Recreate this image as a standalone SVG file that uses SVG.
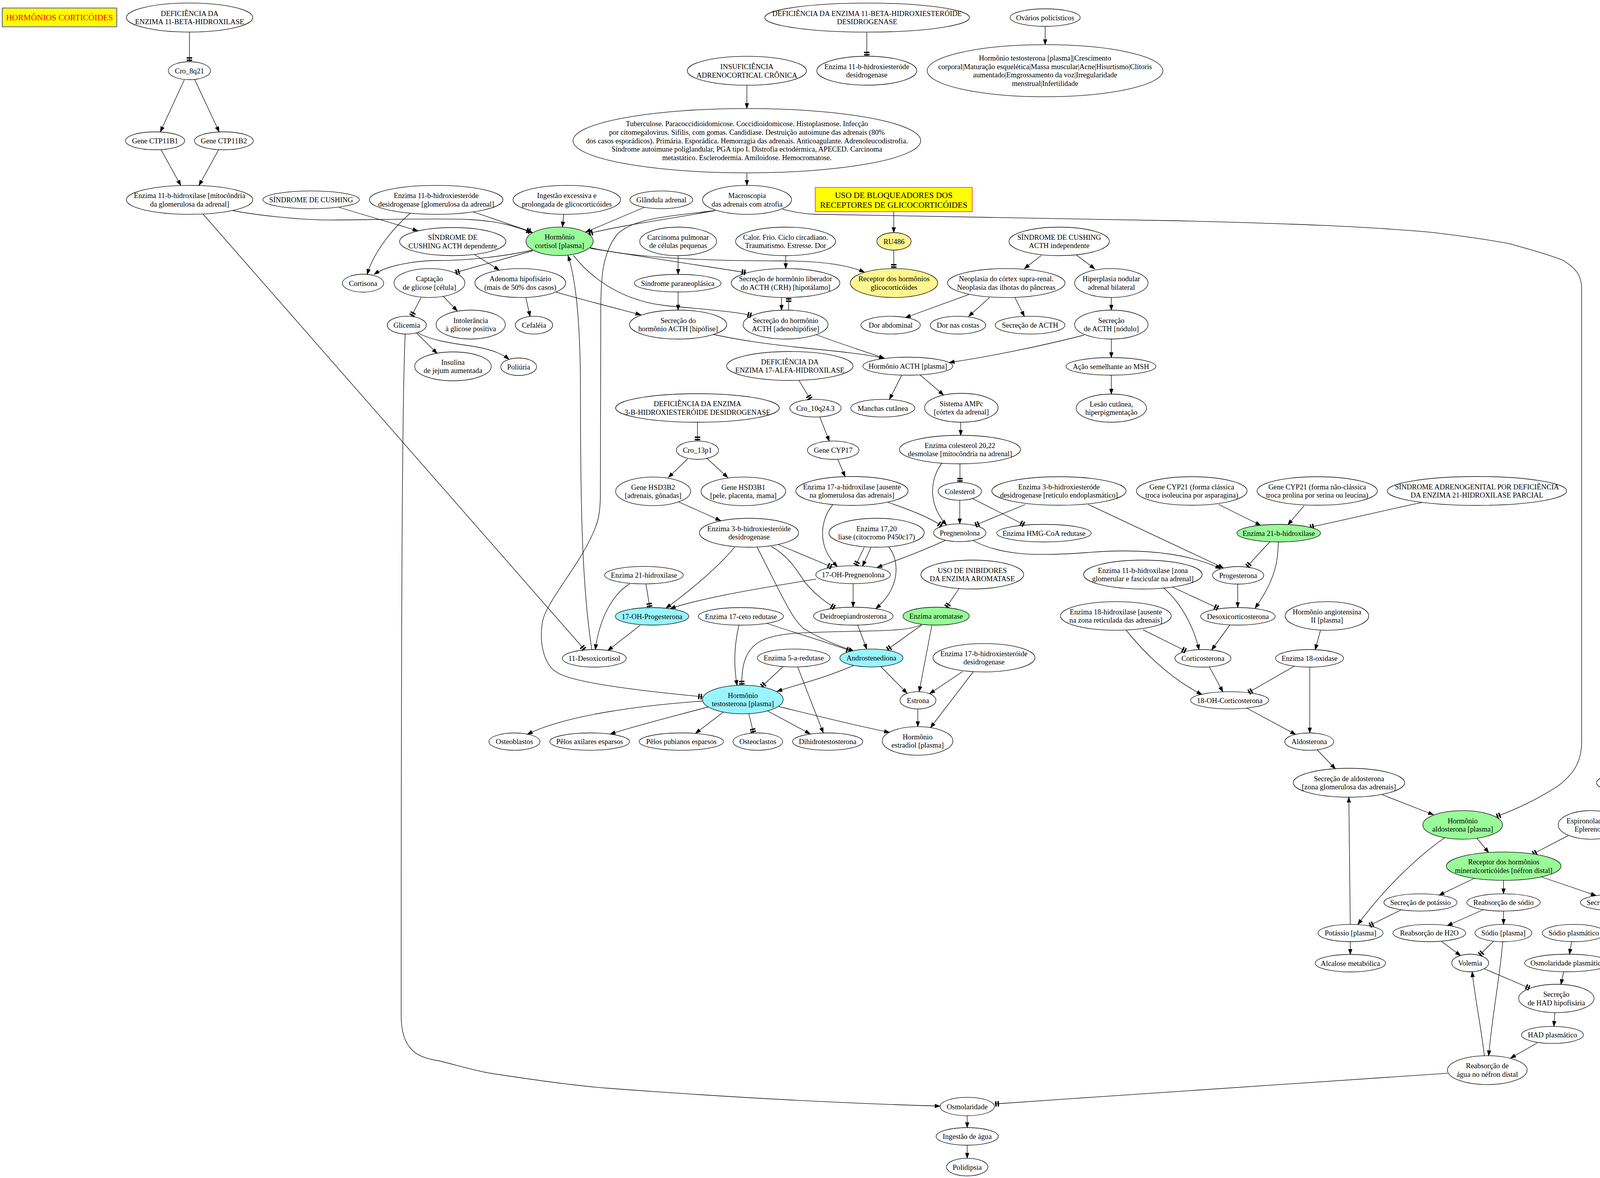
<svg xmlns="http://www.w3.org/2000/svg" width="4497" height="3016" viewBox="0 0 4497 3016">
<style>
text{font-family:"Liberation Serif","Times New Roman",serif;font-size:18.67px;text-anchor:middle;fill:#000}
.node ellipse{fill:none;stroke:#000;stroke-width:1.3}
.node ellipse.g{fill:#98FB98}
.node ellipse.c{fill:#98F5FF}
.node ellipse.y{fill:#FFF68F}
text.big{font-size:21.3px}
text.red{fill:#FF0000}
#edges path{fill:none;stroke:#000;stroke-width:1.3}
#edges path.a{marker-end:url(#a)}
#edges path.t{marker-end:url(#t)}
</style>
<defs>
<marker id="a" markerWidth="14" markerHeight="10" refX="13" refY="5" orient="auto" markerUnits="userSpaceOnUse" overflow="visible"><path d="M0,0.3 L13,5 L0,9.7 z" fill="#000" stroke="#000" stroke-width="1"/></marker>
<marker id="t" markerWidth="12" markerHeight="15" refX="11.5" refY="7.5" orient="auto" markerUnits="userSpaceOnUse" overflow="visible"><rect x="0" y="0.5" width="3.5" height="14" fill="#000"/><rect x="6" y="0.5" width="3.5" height="14" fill="#000"/></marker>
</defs>
<rect x="0" y="0" width="4497" height="3016" fill="#fff"/>
<g id="edges">
<path class="t" d="M485,82 L485,158"/>
<path class="a" d="M472,204 L410.4,337.5"/>
<path class="a" d="M498.6,204 L561,337.5"/>
<path class="a" d="M412.5,383.6 L462.8,474.8"/>
<path class="a" d="M559.6,383.6 L509.4,474.8"/>
<path class="a" d="M595.5,539 C650,550 760,563 846.6,563.3 C950,563 1124,558 1200,562 C1280,566 1320,580 1364,596"/>
<path class="t" d="M1210,542 L1359,593"/>
<path class="t" d="M520,548.5 L1497,1664"/>
<path class="a" d="M1051,545 C1000,590 955,650 940,702.5"/>
<path class="a" d="M868,531 L1070,591"/>
<path class="a" d="M1443,548.5 L1440,581.3"/>
<path class="a" d="M1649,531 L1499,594.5"/>
<path class="t" d="M1830.7,539 C1720,560 1600,575 1506,598"/>
<path class="t" d="M1830.7,539 C1700,555 1620,560 1580,600 C1540,650 1538,720 1538,800 L1537,1262 C1537,1320 1530,1340 1515,1372 C1480,1450 1400,1540 1389,1590 C1380,1640 1390,1700 1425,1721 C1460,1745 1600,1765 1799,1784"/>
<path class="a" d="M1364,640 C1300,655 1200,667 1124,667 C1060,667 990,680 958,702.5"/>
<path class="t" d="M1364,642 L1165,698"/>
<path class="t" d="M1511,636 L1910,698"/>
<path class="a" d="M1511,634 C1620,660 1800,668 2000,668 C2100,668 2170,678 2213,697"/>
<path class="t" d="M1468,654 C1520,720 1600,770 1700,782 C1800,792 1880,797 1925,808"/>
<path class="a" d="M1515,1663 C1490,1500 1486,1300 1486,1000 C1486,800 1470,700 1454,654.5"/>
<path class="a" d="M1213.7,651 L1278,691.6"/>
<path class="a" d="M1346,761.5 L1357,810"/>
<path class="a" d="M1421.7,747.4 C1500,770 1580,790 1640.6,806"/>
<path class="t" d="M1078,761.5 L1053,810"/>
<path class="a" d="M1135,759 L1170.6,796"/>
<path class="a" d="M1067,853 L1119,905"/>
<path class="a" d="M1068,851 C1100,870 1150,878 1200,885 C1250,892 1285,905 1303,920"/>
<path class="a" d="M1037.4,855 C1030,1000 1027,1500 1027,2600 C1027,2690 1070,2708 1124,2716 C1180,2730 1220,2742 1257,2748 C1400,2770 1500,2782 1554,2786 C1900,2812 2200,2826 2406.6,2832"/>
<path class="a" d="M1912,218 L1912,277.8"/>
<path class="a" d="M1912,442.7 L1912,474.6"/>
<path class="t" d="M2219,82 L2219,144"/>
<path class="a" d="M2675.6,67.4 L2675.6,114.3"/>
<path class="a" d="M1736,654.5 L1736,702.5"/>
<path class="a" d="M1736,747.5 L1736,794"/>
<path class="a" d="M2011.5,654.5 L2011.5,687.6"/>
<path class="a" d="M2000.7,761.5 L2000.7,794.2"/>
<path class="t" d="M2019,794 L2019,761.5"/>
<path class="a" d="M1827,856.5 C1900,872 1960,880 2050,890 C2150,900 2210,906 2264,917.5"/>
<path class="a" d="M2089,856.5 C2150,880 2200,895 2264,917.5"/>
<path class="a" d="M2775,858 C2650,890 2520,915 2430,928"/>
<path class="a" d="M2665.6,654 L2622.5,687.7"/>
<path class="a" d="M2756,653 L2802.6,688.4"/>
<path class="a" d="M2481,753.8 L2318,813"/>
<path class="a" d="M2533.5,761.5 L2479.7,810"/>
<path class="a" d="M2598,761.5 L2622.5,810"/>
<path class="a" d="M2845,761.5 L2845,794"/>
<path class="a" d="M2845,868 L2845,915.5"/>
<path class="a" d="M2845,960.5 L2845,1009"/>
<path class="a" d="M2288,542 L2288,595.5"/>
<path class="t" d="M2288,640.5 L2288,687.6"/>
<path class="a" d="M2308.5,960.4 L2277,1022.5"/>
<path class="a" d="M2355,959.6 L2415.6,1011.5"/>
<path class="a" d="M2459.4,1081 L2459.4,1114.5"/>
<path class="t" d="M2045,973.5 L2075,1023"/>
<path class="a" d="M2098.7,1067.5 L2123,1129.5"/>
<path class="a" d="M2144.6,1175.7 L2163.4,1220.3"/>
<path class="t" d="M1785.5,1081 L1785.5,1129.2"/>
<path class="a" d="M1760.4,1174.7 L1711,1222.5"/>
<path class="a" d="M1809,1172.8 L1863,1222.5"/>
<path class="a" d="M1737.4,1285 L1845,1333"/>
<path class="t" d="M2457.5,1187.5 L2457.5,1235.2"/>
<path class="a" d="M2411.6,1185 C2385,1220 2370,1285 2423,1344"/>
<path class="a" d="M2457,1280.8 L2457,1341.2"/>
<path class="t" d="M2488,1275.5 L2623,1344"/>
<path class="t" d="M2624.7,1291.5 L2495.5,1345"/>
<path class="a" d="M2786,1291.5 L3132,1454"/>
<path class="t" d="M2272.8,1286 C2330,1305 2380,1325 2412,1347"/>
<path class="a" d="M2132,1292 C2100,1330 2090,1400 2144,1450.5"/>
<path class="t" d="M1992,1394 L2130,1452"/>
<path class="t" d="M2212.5,1401 L2190,1448.5"/>
<path class="a" d="M2230,1401 L2208,1449.5"/>
<path class="a" d="M2275,1400 C2300,1430 2310,1500 2242,1558.3"/>
<path class="a" d="M2420,1383.6 C2340,1420 2280,1440 2245,1453"/>
<path class="a" d="M2492,1384.5 C2560,1420 2640,1425 2780,1415 C2950,1400 3060,1425 3125,1456"/>
<path class="a" d="M2184,1494.4 L2184,1554.5"/>
<path class="a" d="M2089,1482.7 C1950,1505 1800,1530 1716,1558"/>
<path class="a" d="M1881,1400.6 C1840,1450 1770,1510 1705,1557"/>
<path class="a" d="M1938,1400.6 C2000,1520 2030,1595 2065,1614 C2110,1640 2150,1655 2186,1667"/>
<path class="t" d="M1974,1398.6 C2020,1425 2040,1460 2060,1490 C2085,1520 2110,1540 2138,1556.5"/>
<path class="t" d="M1653.5,1494.9 L1663.5,1555.6"/>
<path class="a" d="M1612,1494.9 C1570,1520 1535,1580 1524,1663"/>
<path class="a" d="M1639,1600.7 L1556,1665.5"/>
<path class="a" d="M1891.7,1600.5 C1880,1650 1877,1700 1887,1755"/>
<path class="t" d="M2359,1599.5 C2330,1612 2300,1614 2200,1616 C2050,1619 1990,1620 1950,1640 C1910,1660 1898,1700 1899,1754.5"/>
<path class="t" d="M1963,1596 C2050,1625 2120,1645 2178,1666.5"/>
<path class="t" d="M2359.8,1600 L2270.5,1664"/>
<path class="a" d="M2385.7,1600.5 L2353,1770.8"/>
<path class="t" d="M2455.8,1506 L2422,1555.6"/>
<path class="a" d="M2195.5,1600.3 L2219,1662"/>
<path class="a" d="M2185.7,1703.6 C2100,1740 2050,1750 1989,1770"/>
<path class="a" d="M2255,1706.5 L2322,1775"/>
<path class="t" d="M2005,1706.5 L1949,1758.5"/>
<path class="a" d="M2042,1707.5 L2107.6,1876.5"/>
<path class="a" d="M2464.7,1719 L2380,1776"/>
<path class="a" d="M2491.5,1720 L2382,1863"/>
<path class="a" d="M2349.6,1815.2 L2349.6,1860.4"/>
<path class="a" d="M1993.7,1809 C2100,1835 2200,1860 2277,1875"/>
<path class="a" d="M1964.7,1820 L2074,1879"/>
<path class="t" d="M1917,1827.2 L1929,1876.8"/>
<path class="a" d="M1852,1823 L1780.5,1877.5"/>
<path class="a" d="M1812.7,1810 C1720,1835 1620,1860 1562,1879.5"/>
<path class="a" d="M1798.4,1795 C1650,1805 1450,1830 1350,1880"/>
<path class="a" d="M3119.7,1291.5 L3227.3,1345"/>
<path class="a" d="M3338.5,1294.7 L3297,1343.5"/>
<path class="t" d="M3641,1286.4 C3550,1305 3450,1330 3352,1350"/>
<path class="t" d="M3251,1387 L3191.5,1451.5"/>
<path class="a" d="M3272.5,1387.5 C3272,1430 3268,1480 3213,1557"/>
<path class="a" d="M3168.5,1495.5 L3168.5,1555.5"/>
<path class="t" d="M3001.3,1503 L3119.7,1558"/>
<path class="a" d="M2978.4,1505 C3020,1540 3055,1600 3069.5,1663.5"/>
<path class="a" d="M3148.4,1600 L3101.8,1664"/>
<path class="t" d="M2926,1612.3 L3037,1667.5"/>
<path class="a" d="M2883,1613.5 C2920,1660 2990,1735 3077,1778"/>
<path class="a" d="M3096,1707.5 L3130.5,1771.2"/>
<path class="a" d="M3380.6,1613 L3367,1663.5"/>
<path class="t" d="M3313.4,1705.5 L3195,1773.5"/>
<path class="a" d="M3353,1708 L3353,1876.5"/>
<path class="a" d="M3191.5,1813 L3317,1880.5"/>
<path class="a" d="M3372,1919.8 L3418.6,1968.5"/>
<path class="a" d="M3537,2034 L3669.7,2086"/>
<path class="t" d="M2003,535.7 C2040,545 2070,548 2085,548.5 C2300,553 2600,558 3000,565 C3300,572 3500,580 3662.6,594.7 C3750,605 3800,612 3863.5,623.6 C3920,640 3960,650 4000.5,666 C4040,690 4049,710 4049,740 L4049,1898 C4049,1950 4030,1980 3989,2012 C3930,2050 3880,2072 3830,2091"/>
<path class="a" d="M3456.7,2366.5 L3453,2041"/>
<path class="a" d="M3781,2146 L3811,2183"/>
<path class="a" d="M3698.4,2144.7 C3620,2200 3540,2280 3476,2367"/>
<path class="a" d="M4218.6,2038 L4130,2084.5"/>
<path class="t" d="M4014,2139.6 L3923,2187"/>
<path class="a" d="M3773.8,2249 L3684,2292"/>
<path class="a" d="M3849,2254 L3849,2288.3"/>
<path class="a" d="M3946,2245 L4086,2293"/>
<path class="t" d="M3587,2329.5 L3504.7,2370"/>
<path class="t" d="M4173.4,2332 L4204.2,2367"/>
<path class="a" d="M3797.4,2329 L3705,2370"/>
<path class="a" d="M3849,2332.7 L3849,2366.6"/>
<path class="a" d="M3456.7,2411 L3456.7,2443.5"/>
<path class="a" d="M3690,2410 L3739,2446.5"/>
<path class="t" d="M3824,2409.5 L3786.7,2446"/>
<path class="a" d="M3847,2411 C3840,2500 3820,2600 3811,2703"/>
<path class="a" d="M4023.4,2411 L4017.7,2443"/>
<path class="a" d="M4003,2488 L3996,2520.5"/>
<path class="t" d="M3800,2480.5 L3917,2530.5"/>
<path class="a" d="M3980.4,2592.5 L3978,2627.8"/>
<path class="a" d="M3935,2670.5 L3867,2709"/>
<path class="a" d="M3800,2702.8 C3790,2620 3775,2550 3768.8,2488"/>
<path class="t" d="M3705.6,2747.8 C3500,2760 3000,2795 2545.8,2826.5"/>
<path class="a" d="M2476,2856.7 L2476,2887"/>
<path class="a" d="M2476,2932 L2476,2965.3"/>
</g>
<g id="nodes">
<g id="n_title"><rect x="5.7" y="20.5" width="293.3" height="48.1" fill="#FFFF00" stroke="#0000FF" stroke-width="1.3"/><text class="big red" x="152.3" y="52">HORMÔNIOS CORTICÓIDES</text></g>
<g id="n_usobloqglico"><rect x="2087" y="480" width="402" height="62" fill="#FFFF00" stroke="#FF0000" stroke-width="1.3"/><text class="big" x="2288" y="507">USO DE BLOQUEADORES DOS</text><text class="big" x="2288" y="532">RECEPTORES DE GLICOCORTICÓIDES</text></g>
<g id="n_def11b" class="node"><ellipse cx="485.4" cy="44.9" rx="161.8" ry="37.2"/><text x="485.4" y="40.55">DEFICIÊNCIA DA</text><text x="485.4" y="62.25">ENZIMA 11-BETA-HIDROXILASE</text></g>
<g id="n_cro8q21" class="node"><ellipse cx="485" cy="181" rx="54" ry="23"/><text x="485" y="187.5">Cro_8q21</text></g>
<g id="n_ctp11b1" class="node"><ellipse cx="397" cy="360.5" rx="75.7" ry="23"/><text x="397" y="367">Gene CTP11B1</text></g>
<g id="n_ctp11b2" class="node"><ellipse cx="573" cy="360.5" rx="75.3" ry="23"/><text x="573" y="367">Gene CTP11B2</text></g>
<g id="n_enz11bhid" class="node"><ellipse cx="485.4" cy="511.6" rx="161.8" ry="37"/><text x="485.4" y="507.25">Enzima 11-b-hidroxilase [mitocôndria</text><text x="485.4" y="528.95">da glomerulosa da adrenal]</text></g>
<g id="n_cushing" class="node"><ellipse cx="796.4" cy="511.6" rx="123.4" ry="22.8"/><text x="796.4" y="518.1">SÍNDROME DE CUSHING</text></g>
<g id="n_enz11bhsdglom" class="node"><ellipse cx="1116.6" cy="511.6" rx="171" ry="37"/><text x="1116.6" y="507.25">Enzima 11-b-hidroxiesteróde</text><text x="1116.6" y="528.95">desidrogenase [glomerulosa da adrenal]</text></g>
<g id="n_ingestao" class="node"><ellipse cx="1451" cy="511.6" rx="137.7" ry="37"/><text x="1451" y="507.25">Ingestão excessiva e</text><text x="1451" y="528.95">prolongada de glicocorticóides</text></g>
<g id="n_glandula" class="node"><ellipse cx="1693" cy="511.6" rx="80.4" ry="22.8"/><text x="1693" y="518.1">Glândula adrenal</text></g>
<g id="n_macro" class="node"><ellipse cx="1912.5" cy="511.6" rx="114" ry="37"/><text x="1912.5" y="507.25">Macroscopia</text><text x="1912.5" y="528.95">das adrenais com atrofia</text></g>
<g id="n_insuf" class="node"><ellipse cx="1912" cy="181.2" rx="152.5" ry="37"/><text x="1912" y="176.85">INSUFICIÊNCIA</text><text x="1912" y="198.55">ADRENOCORTICAL CRÔNICA</text></g>
<g id="n_tuberc" class="node"><ellipse cx="1912" cy="360.2" rx="445" ry="82.4"/><text x="1912" y="323.3">Tuberculose. Paracoccidioidomicose. Coccidioidomicose. Histoplasmose. Infecção</text><text x="1912" y="345">por citomegalovirus. Sífilis, com gomas. Candidiase. Destruição autoimune das adrenais (80%</text><text x="1912" y="366.7">dos casos esporádicos). Primária. Esporádica. Hemorragia das adrenais. Anticoagulante. Adrenoleucodistrofia.</text><text x="1912" y="388.4">Síndrome autoimune poliglandular, PGA tipo I. Distrofia ectodérmica, APECED. Carcinoma</text><text x="1912" y="410.1">metastático. Esclerodermia. Amiloidose. Hemocromatose.</text></g>
<g id="n_def11bhsd" class="node"><ellipse cx="2219.8" cy="45" rx="262" ry="37.2"/><text x="2219.8" y="40.65">DEFICIÊNCIA DA ENZIMA 11-BETA-HIDROXIESTERÓIDE</text><text x="2219.8" y="62.35">DESIDROGENASE</text></g>
<g id="n_enz11bhsdtop" class="node"><ellipse cx="2219" cy="181" rx="128" ry="37"/><text x="2219" y="176.65">Enzima 11-b-hidroxiesteróde</text><text x="2219" y="198.35">desidrogenase</text></g>
<g id="n_ovarios" class="node"><ellipse cx="2675.6" cy="45" rx="89.7" ry="22.5"/><text x="2675.6" y="51.5">Ovários policísticos</text></g>
<g id="n_testocresc" class="node"><ellipse cx="2675.3" cy="181" rx="301.7" ry="66.7"/><text x="2675.3" y="154.95">Hormônio testosterona [plasma]|Crescimento</text><text x="2675.3" y="176.65">corporal|Maturação esquelética|Massa muscular|Acne|Hisurtismo|Clítoris</text><text x="2675.3" y="198.35">aumentado|Emgrossamento da voz|Irregularidade</text><text x="2675.3" y="220.05">menstrual|Infertilidade</text></g>
<g id="n_cushingdep" class="node"><ellipse cx="1159" cy="618.5" rx="136" ry="36"/><text x="1159" y="614.15">SÍNDROME DE</text><text x="1159" y="635.85">CUSHING ACTH dependente</text></g>
<g id="n_cortisol" class="node"><ellipse class="g" cx="1432.5" cy="617.8" rx="86" ry="36.5"/><text x="1432.5" y="613.45">Hormônio</text><text x="1432.5" y="635.15">cortisol [plasma]</text></g>
<g id="n_carcinoma" class="node"><ellipse cx="1736" cy="618" rx="98.3" ry="36.5"/><text x="1736" y="613.65">Carcinoma pulmonar</text><text x="1736" y="635.35">de células pequenas</text></g>
<g id="n_calor" class="node"><ellipse cx="2011" cy="618" rx="128" ry="36.5"/><text x="2011" y="613.65">Calor. Frio. Ciclo circadiano.</text><text x="2011" y="635.35">Traumatismo. Estresse. Dor</text></g>
<g id="n_ru486" class="node"><ellipse class="y" cx="2288.6" cy="618" rx="44" ry="22.5"/><text x="2288.6" y="624.5">RU486</text></g>
<g id="n_cushingindep" class="node"><ellipse cx="2711.5" cy="618" rx="128.5" ry="36.5"/><text x="2711.5" y="613.65">SÍNDROME DE CUSHING</text><text x="2711.5" y="635.35">ACTH independente</text></g>
<g id="n_cortisona" class="node"><ellipse cx="929.5" cy="725" rx="52.7" ry="23"/><text x="929.5" y="731.5">Cortisona</text></g>
<g id="n_captacao" class="node"><ellipse cx="1099.4" cy="724.6" rx="90.7" ry="37"/><text x="1099.4" y="720.25">Captação</text><text x="1099.4" y="741.95">de glicose [célula]</text></g>
<g id="n_adenoma" class="node"><ellipse cx="1332" cy="724.6" rx="116.3" ry="37"/><text x="1332" y="720.25">Adenoma hipofisário</text><text x="1332" y="741.95">(mais de 50% dos casos)</text></g>
<g id="n_paraneo" class="node"><ellipse cx="1735" cy="725" rx="111" ry="22.5"/><text x="1735" y="731.5">Síndrome paraneoplásica</text></g>
<g id="n_crh" class="node"><ellipse cx="2011" cy="724.6" rx="139" ry="37"/><text x="2011" y="720.25">Secreção de hormônio liberador</text><text x="2011" y="741.95">do ACTH (CRH) [hipotálamo]</text></g>
<g id="n_receptorglico" class="node"><ellipse class="y" cx="2288.6" cy="724.6" rx="112" ry="37"/><text x="2288.6" y="720.25">Receptor dos hormônios</text><text x="2288.6" y="741.95">glicocorticóides</text></g>
<g id="n_neoplasia" class="node"><ellipse cx="2576" cy="724.6" rx="150.3" ry="37"/><text x="2576" y="720.25">Neoplasia do córtex supra-renal.</text><text x="2576" y="741.95">Neoplasia das ilhotas do pâncreas</text></g>
<g id="n_hiperplasia" class="node"><ellipse cx="2845" cy="724.6" rx="94" ry="37"/><text x="2845" y="720.25">Hiperplasia nodular</text><text x="2845" y="741.95">adrenal bilateral</text></g>
<g id="n_glicemia" class="node"><ellipse cx="1041.4" cy="832.5" rx="50" ry="22.8"/><text x="1041.4" y="839">Glicemia</text></g>
<g id="n_intolerancia" class="node"><ellipse cx="1205" cy="831" rx="88.6" ry="37"/><text x="1205" y="826.65">Intolerância</text><text x="1205" y="848.35">à glicose positiva</text></g>
<g id="n_cefaleia" class="node"><ellipse cx="1367" cy="832.5" rx="47.7" ry="22.8"/><text x="1367" y="839">Cefaléia</text></g>
<g id="n_secacthhip" class="node"><ellipse cx="1736" cy="831" rx="124.5" ry="37"/><text x="1736" y="826.65">Secreção do</text><text x="1736" y="848.35">hormônio ACTH [hipófise]</text></g>
<g id="n_secacthadeno" class="node"><ellipse cx="2011" cy="831" rx="108.7" ry="37"/><text x="2011" y="826.65">Secreção do hormônio</text><text x="2011" y="848.35">ACTH [adenohipófise]</text></g>
<g id="n_dorabd" class="node"><ellipse cx="2280" cy="832.5" rx="76" ry="22.8"/><text x="2280" y="839">Dor abdominal</text></g>
<g id="n_dorcostas" class="node"><ellipse cx="2452.5" cy="832.5" rx="71" ry="22.8"/><text x="2452.5" y="839">Dor nas costas</text></g>
<g id="n_secacth" class="node"><ellipse cx="2637" cy="832.5" rx="89.3" ry="22.8"/><text x="2637" y="839">Secreção de ACTH</text></g>
<g id="n_secacthnod" class="node"><ellipse cx="2845" cy="831" rx="94" ry="37"/><text x="2845" y="826.65">Secreção</text><text x="2845" y="848.35">de ACTH [nódulo]</text></g>
<g id="n_insulina" class="node"><ellipse cx="1159.6" cy="938" rx="98" ry="37"/><text x="1159.6" y="933.65">Insulina</text><text x="1159.6" y="955.35">de jejum aumentada</text></g>
<g id="n_poliuria" class="node"><ellipse cx="1327.8" cy="939" rx="46" ry="22.5"/><text x="1327.8" y="945.5">Poliúria</text></g>
<g id="n_def17a" class="node"><ellipse cx="2022" cy="937" rx="161.8" ry="37"/><text x="2022" y="932.65">DEFICIÊNCIA DA</text><text x="2022" y="954.35">ENZIMA 17-ALFA-HIDROXILASE</text></g>
<g id="n_acthplasma" class="node"><ellipse cx="2324" cy="937.5" rx="115" ry="23"/><text x="2324" y="944">Hormônio ACTH [plasma]</text></g>
<g id="n_acaomsh" class="node"><ellipse cx="2844" cy="938" rx="115" ry="22.5"/><text x="2844" y="944.5">Ação semelhante ao MSH</text></g>
<g id="n_def3b" class="node"><ellipse cx="1785.5" cy="1044.5" rx="209.5" ry="36.5"/><text x="1785.5" y="1040.15">DEFICIÊNCIA DA ENZIMA</text><text x="1785.5" y="1061.85">3-B-HIDROXIESTERÓIDE DESIDROGENASE</text></g>
<g id="n_cro10q" class="node"><ellipse cx="2087.5" cy="1045" rx="65.6" ry="22.7"/><text x="2087.5" y="1051.5">Cro_10q24.3</text></g>
<g id="n_manchas" class="node"><ellipse cx="2260" cy="1045" rx="82" ry="22.7"/><text x="2260" y="1051.5">Manchas cutânea</text></g>
<g id="n_ampc" class="node"><ellipse cx="2461" cy="1044" rx="94" ry="37"/><text x="2461" y="1039.65">Sistema AMPc</text><text x="2461" y="1061.35">[córtex da adrenal]</text></g>
<g id="n_lesao" class="node"><ellipse cx="2845" cy="1045" rx="90" ry="36"/><text x="2845" y="1040.65">Lesão cutânea,</text><text x="2845" y="1062.35">hiperpigmentação</text></g>
<g id="n_cro13p1" class="node"><ellipse cx="1785.5" cy="1152.6" rx="54" ry="23.4"/><text x="1785.5" y="1159.1">Cro_13p1</text></g>
<g id="n_cyp17" class="node"><ellipse cx="2133" cy="1152.6" rx="66" ry="23.4"/><text x="2133" y="1159.1">Gene CYP17</text></g>
<g id="n_desmolase" class="node"><ellipse cx="2457.5" cy="1151" rx="155" ry="36.5"/><text x="2457.5" y="1146.65">Enzima colesterol 20,22</text><text x="2457.5" y="1168.35">desmolase [mitocôndria na adrenal]</text></g>
<g id="n_hsd3b2" class="node"><ellipse cx="1672" cy="1258" rx="96" ry="36.6"/><text x="1672" y="1253.65">Gene HSD3B2</text><text x="1672" y="1275.35">[adrenais, gônadas]</text></g>
<g id="n_hsd3b1" class="node"><ellipse cx="1903" cy="1258" rx="108.4" ry="36.6"/><text x="1903" y="1253.65">Gene HSD3B1</text><text x="1903" y="1275.35">[pele, placenta, mama]</text></g>
<g id="n_enz17a" class="node"><ellipse cx="2181" cy="1257" rx="143.8" ry="37"/><text x="2181" y="1252.65">Enzima 17-a-hidroxilase [ausente</text><text x="2181" y="1274.35">na glomerulosa das adrenais]</text></g>
<g id="n_colesterol" class="node"><ellipse cx="2457" cy="1258" rx="55.6" ry="22.8"/><text x="2457" y="1264.5">Colesterol</text></g>
<g id="n_enz3bret" class="node"><ellipse cx="2711" cy="1257" rx="172" ry="36.5"/><text x="2711" y="1252.65">Enzima 3-b-hidroxiesteróde</text><text x="2711" y="1274.35">desidrogenase [retículo endoplasmático]</text></g>
<g id="n_cyp21c" class="node"><ellipse cx="3051" cy="1257" rx="141.7" ry="36.5"/><text x="3051" y="1252.65">Gene CYP21 (forma clássica</text><text x="3051" y="1274.35">troca isoleucina por asparagina)</text></g>
<g id="n_cyp21nc" class="node"><ellipse cx="3372" cy="1257" rx="154" ry="36.5"/><text x="3372" y="1252.65">Gene CYP21 (forma não-clássica</text><text x="3372" y="1274.35">troca prolina por serina ou leucina)</text></g>
<g id="n_adrenogenital" class="node"><ellipse cx="3781" cy="1257" rx="229.6" ry="37"/><text x="3781" y="1252.65">SÍNDROME ADRENOGENITAL POR DEFICIÊNCIA</text><text x="3781" y="1274.35">DA ENZIMA 21-HIDROXILASE PARCIAL</text></g>
<g id="n_enz3bmid" class="node"><ellipse cx="1917.5" cy="1364" rx="127" ry="37"/><text x="1917.5" y="1359.65">Enzima 3-b-hidroxiesteróide</text><text x="1917.5" y="1381.35">desidrogenase</text></g>
<g id="n_liase" class="node"><ellipse cx="2244" cy="1364" rx="122" ry="37"/><text x="2244" y="1359.65">Enzima 17,20</text><text x="2244" y="1381.35">liase (citocromo P450c17)</text></g>
<g id="n_pregnenolona" class="node"><ellipse cx="2457" cy="1364" rx="67" ry="22.8"/><text x="2457" y="1370.5">Pregnenolona</text></g>
<g id="n_hmgcoa" class="node"><ellipse cx="2672.6" cy="1365" rx="121" ry="22.5"/><text x="2672.6" y="1371.5">Enzima HMG-CoA redutase</text></g>
<g id="n_enz21b" class="node"><ellipse class="g" cx="3273.5" cy="1365" rx="107" ry="22.5"/><text x="3273.5" y="1371.5">Enzima 21-b-hidroxilase</text></g>
<g id="n_enz21" class="node"><ellipse cx="1648.5" cy="1472.5" rx="100.5" ry="22.3"/><text x="1648.5" y="1479">Enzima 21-hidroxilase</text></g>
<g id="n_ohpreg" class="node"><ellipse cx="2184" cy="1471.4" rx="95.5" ry="23"/><text x="2184" y="1477.9">17-OH-Pregnenolona</text></g>
<g id="n_usoinib" class="node"><ellipse cx="2489" cy="1471" rx="131.7" ry="37"/><text x="2489" y="1466.65">USO DE INIBIDORES</text><text x="2489" y="1488.35">DA ENZIMA AROMATASE</text></g>
<g id="n_enz11bzona" class="node"><ellipse cx="2925.7" cy="1471" rx="151.7" ry="37"/><text x="2925.7" y="1466.65">Enzima 11-b-hidroxilase [zona</text><text x="2925.7" y="1488.35">glomerular e fascicular na adrenal]</text></g>
<g id="n_progesterona" class="node"><ellipse cx="3169.6" cy="1473" rx="65.6" ry="22.5"/><text x="3169.6" y="1479.5">Progesterona</text></g>
<g id="n_ohprog" class="node"><ellipse class="c" cx="1669.3" cy="1578" rx="94" ry="22.5"/><text x="1669.3" y="1584.5">17-OH-Progesterona</text></g>
<g id="n_enz17ceto" class="node"><ellipse cx="1896.7" cy="1578" rx="109" ry="22.5"/><text x="1896.7" y="1584.5">Enzima 17-ceto redutase</text></g>
<g id="n_dhea" class="node"><ellipse cx="2184.4" cy="1577.5" rx="101.8" ry="23"/><text x="2184.4" y="1584">Deidroepiandrosterona</text></g>
<g id="n_aromatase" class="node"><ellipse class="g" cx="2396.4" cy="1577.5" rx="84.8" ry="23"/><text x="2396.4" y="1584">Enzima aromatase</text></g>
<g id="n_enz18hid" class="node"><ellipse cx="2856.7" cy="1577" rx="141.7" ry="36.6"/><text x="2856.7" y="1572.65">Enzima 18-hidroxilase [ausente</text><text x="2856.7" y="1594.35">na zona reticulada das adrenais]</text></g>
<g id="n_doc" class="node"><ellipse cx="3169" cy="1578" rx="95.5" ry="22.5"/><text x="3169" y="1584.5">Desoxicorticosterona</text></g>
<g id="n_angiotensina" class="node"><ellipse cx="3397" cy="1577" rx="107" ry="36.6"/><text x="3397" y="1572.65">Hormônio angiotensina</text><text x="3397" y="1594.35">II [plasma]</text></g>
<g id="n_desoxicortisol" class="node"><ellipse cx="1521.5" cy="1685.5" rx="81.8" ry="22.5"/><text x="1521.5" y="1692">11-Desoxicortisol</text></g>
<g id="n_enz5a" class="node"><ellipse cx="2032" cy="1684.6" rx="93" ry="23"/><text x="2032" y="1691.1">Enzima 5-a-redutase</text></g>
<g id="n_androstenediona" class="node"><ellipse class="c" cx="2230.8" cy="1684.6" rx="80.8" ry="23"/><text x="2230.8" y="1691.1">Androstenediona</text></g>
<g id="n_enz17bhsd" class="node"><ellipse cx="2519" cy="1684" rx="130.6" ry="36.3"/><text x="2519" y="1679.65">Enzima 17-b-hidroxiesteróide</text><text x="2519" y="1701.35">desidrogenase</text></g>
<g id="n_corticosterona" class="node"><ellipse cx="3079.5" cy="1685.5" rx="71.7" ry="22.5"/><text x="3079.5" y="1692">Corticosterona</text></g>
<g id="n_enz18ox" class="node"><ellipse cx="3352.4" cy="1685.5" rx="87" ry="22.5"/><text x="3352.4" y="1692">Enzima 18-oxidase</text></g>
<g id="n_testosterona" class="node"><ellipse class="c" cx="1901.7" cy="1791" rx="103.3" ry="36.6"/><text x="1901.7" y="1786.65">Hormônio</text><text x="1901.7" y="1808.35">testosterona [plasma]</text></g>
<g id="n_estrona" class="node"><ellipse cx="2350" cy="1793" rx="46" ry="22.2"/><text x="2350" y="1799.5">Estrona</text></g>
<g id="n_ohcort" class="node"><ellipse cx="3148" cy="1793" rx="100" ry="22.2"/><text x="3148" y="1799.5">18-OH-Corticosterona</text></g>
<g id="n_osteoblastos" class="node"><ellipse cx="1317" cy="1898.7" rx="65.3" ry="22.2"/><text x="1317" y="1905.2">Osteoblastos</text></g>
<g id="n_pelosax" class="node"><ellipse cx="1509.6" cy="1898.7" rx="102" ry="22.2"/><text x="1509.6" y="1905.2">Pêlos axilares esparsos</text></g>
<g id="n_pelospub" class="node"><ellipse cx="1744.2" cy="1898.7" rx="108" ry="22.2"/><text x="1744.2" y="1905.2">Pêlos pubianos esparsos</text></g>
<g id="n_osteoclastos" class="node"><ellipse cx="1940" cy="1898.7" rx="63.5" ry="22.2"/><text x="1940" y="1905.2">Osteoclastos</text></g>
<g id="n_dht" class="node"><ellipse cx="2118.7" cy="1898.7" rx="90" ry="22.2"/><text x="2118.7" y="1905.2">Dihidrotestosterona</text></g>
<g id="n_estradiol" class="node"><ellipse cx="2349" cy="1897" rx="90.4" ry="36.6"/><text x="2349" y="1892.65">Hormônio</text><text x="2349" y="1914.35">estradiol [plasma]</text></g>
<g id="n_aldosterona" class="node"><ellipse cx="3351.6" cy="1898.7" rx="62.6" ry="22.2"/><text x="3351.6" y="1905.2">Aldosterona</text></g>
<g id="n_secaldo" class="node"><ellipse cx="3453.3" cy="2004" rx="142.7" ry="37"/><text x="3453.3" y="1999.65">Secreção de aldosterona</text><text x="3453.3" y="2021.35">[zona glomerulosa das adrenais]</text></g>
<g id="n_usobloqmin" class="node"><ellipse cx="4289" cy="2004" rx="202" ry="37"/><text x="4289" y="1999.65">USO DE BLOQEADORES DOS</text><text x="4289" y="2021.35">RECEPTORES DE MINERALCORTICOIDES</text></g>
<g id="n_aldoplasma" class="node"><ellipse class="g" cx="3744.4" cy="2112" rx="102" ry="36.6"/><text x="3744.4" y="2107.65">Hormônio</text><text x="3744.4" y="2129.35">aldosterona [plasma]</text></g>
<g id="n_espiro" class="node"><ellipse cx="4073.3" cy="2112" rx="84.3" ry="36.6"/><text x="4073.3" y="2107.65">Espironolactona.</text><text x="4073.3" y="2129.35">Eplerenona</text></g>
<g id="n_receptormin" class="node"><ellipse class="g" cx="3849.5" cy="2217.6" rx="146.7" ry="36.3"/><text x="3849.5" y="2213.25">Receptor dos hormônios</text><text x="3849.5" y="2234.95">mineralcorticóides [néfron distal]</text></g>
<g id="n_secpot" class="node"><ellipse cx="3636.4" cy="2310.5" rx="93.6" ry="22.2"/><text x="3636.4" y="2317">Secreção de potássio</text></g>
<g id="n_reabsodio" class="node"><ellipse cx="3849" cy="2310.5" rx="94" ry="22.2"/><text x="3849" y="2317">Reabsorção de sódio</text></g>
<g id="n_sechid" class="node"><ellipse cx="4149.4" cy="2310.5" rx="103.7" ry="22.2"/><text x="4149.4" y="2317">Secreção de hidrogênio</text></g>
<g id="n_potassio" class="node"><ellipse cx="3457.3" cy="2388.8" rx="83.3" ry="22.2"/><text x="3457.3" y="2395.3">Potássio [plasma]</text></g>
<g id="n_reabh2o" class="node"><ellipse cx="3659" cy="2388.8" rx="93.3" ry="22.2"/><text x="3659" y="2395.3">Reabsorção de H2O</text></g>
<g id="n_sodioplasma" class="node"><ellipse cx="3848.8" cy="2388.8" rx="72.8" ry="22.2"/><text x="3848.8" y="2395.3">Sódio [plasma]</text></g>
<g id="n_sodioplasmatico" class="node"><ellipse cx="4028.8" cy="2388.8" rx="80.7" ry="22.2"/><text x="4028.8" y="2395.3">Sódio plasmático</text></g>
<g id="n_hidrogenio" class="node"><ellipse cx="4227" cy="2388.8" rx="93.3" ry="22.2"/><text x="4227" y="2395.3">Hidrogênio [plasma]</text></g>
<g id="n_alcalose" class="node"><ellipse cx="3457" cy="2466" rx="90" ry="22.5"/><text x="3457" y="2472.5">Alcalose metabólica</text></g>
<g id="n_volemia" class="node"><ellipse cx="3763.7" cy="2465.5" rx="47.3" ry="22.5"/><text x="3763.7" y="2472">Volemia</text></g>
<g id="n_osmoplasm" class="node"><ellipse cx="4012.4" cy="2465.5" rx="109.4" ry="22.5"/><text x="4012.4" y="2472">Osmolaridade plasmática</text></g>
<g id="n_secHAD" class="node"><ellipse cx="3984.3" cy="2556.3" rx="96.5" ry="36.3"/><text x="3984.3" y="2551.95">Secreção</text><text x="3984.3" y="2573.65">de HAD hipofisária</text></g>
<g id="n_HADplasm" class="node"><ellipse cx="3974.3" cy="2649.6" rx="79.3" ry="21.8"/><text x="3974.3" y="2656.1">HAD plasmático</text></g>
<g id="n_reabagua" class="node"><ellipse cx="3807.5" cy="2739.8" rx="102" ry="37"/><text x="3807.5" y="2735.45">Reabsorção de</text><text x="3807.5" y="2757.15">água no néfron distal</text></g>
<g id="n_osmolaridade" class="node"><ellipse cx="2476.2" cy="2833" rx="69.6" ry="23.7"/><text x="2476.2" y="2839.5">Osmolaridade</text></g>
<g id="n_ingestaoagua" class="node"><ellipse cx="2476" cy="2909.5" rx="79.6" ry="22.5"/><text x="2476" y="2916">Ingestão de água</text></g>
<g id="n_polidipsia" class="node"><ellipse cx="2476" cy="2988" rx="53" ry="22.7"/><text x="2476" y="2994.5">Polidipsia</text></g>
</g>
</svg>
